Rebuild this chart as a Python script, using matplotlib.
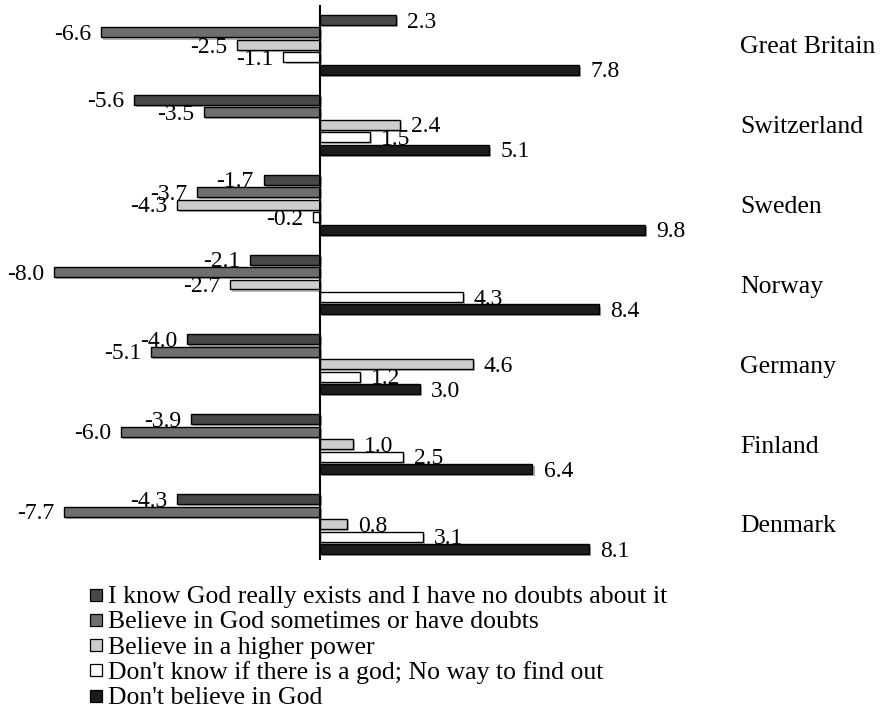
import matplotlib
matplotlib.use("Agg")
import matplotlib.pyplot as plt
import matplotlib.patheffects as pe
from matplotlib.patches import Rectangle
import numpy as np

plt.rcParams['font.family'] = ['Liberation Serif', 'DejaVu Serif']

countries = ["Great Britain", "Switzerland", "Sweden", "Norway", "Germany", "Finland", "Denmark"]
series_names = [
    "I know God really exists and I have no doubts about it",
    "Believe in God sometimes or have doubts",
    "Believe in a higher power",
    "Don't know if there is a god; No way to find out",
    "Don't believe in God",
]
know_god = [2.3, -5.6, -1.7, -2.1, -4.0, -3.9, -4.3]
doubts = [-6.6, -3.5, -3.7, -8.0, -5.1, -6.0, -7.7]
higher_power = [-2.5, 2.4, -4.3, -2.7, 4.6, 1.0, 0.8]
dont_know = [-1.1, 1.5, -0.2, 4.3, 1.2, 2.5, 3.1]
dont_believe = [7.8, 5.1, 9.8, 8.4, 3.0, 6.4, 8.1]
series = [know_god, doubts, higher_power, dont_know, dont_believe]
colors = ["#484848", "#6e6e6e", "#cdcdcd", "#ffffff", "#1c1c1c"]

W, H = 881, 715
fig = plt.figure(figsize=(W / 100, H / 100), dpi=100)
ax = fig.add_axes([21.2 / W, (H - 560) / H, (718.4 - 21.2) / W, 555 / H])

step = 0.156
height = 0.125
ypos = np.arange(len(countries))
shadow = [pe.SimplePatchShadow(offset=(1.5, -1.5), alpha=0.35), pe.Normal()]
for j, (vals, c) in enumerate(zip(series, colors)):
    y = ypos + (j - 2) * step
    bars = ax.barh(y, vals, height=height, color=c, edgecolor="black", linewidth=1.0, zorder=2)
    for b in bars:
        b.set_path_effects(shadow)
    for yy, v in zip(y, vals):
        if v >= 0:
            ax.annotate(f"{v:.1f}", (v, yy), xytext=(8, -1.5), textcoords="offset points",
                        ha="left", va="center", fontsize=17)
        else:
            ax.annotate(f"{v:.1f}", (v, yy), xytext=(-7, -1.5), textcoords="offset points",
                        ha="right", va="center", fontsize=17)

for yy, name in zip(ypos, countries):
    ax.text(12.65, yy + 0.03, name, ha="left", va="center", fontsize=18.5, clip_on=False)

ax.axvline(0, color="black", linewidth=1.5, zorder=3)
ax.set_xlim(-9, 12)
ax.set_ylim(6.45, -0.50)
for s in ax.spines.values():
    s.set_visible(False)
ax.set_xticks([])
ax.set_yticks([])

# legend, drawn in figure pixel coordinates
for i, (c, name) in enumerate(zip(colors, series_names)):
    base = 603 + i * 25.3
    fig.patches.append(Rectangle((90 / W, 1 - (base - 2.5) / H), 12 / W, 12 / H,
                                 facecolor=c, edgecolor="black", linewidth=0.9,
                                 transform=fig.transFigure, figure=fig))
    fig.text(108 / W, 1 - base / H, name, ha="left", va="baseline", fontsize=18.5)

fig.savefig("out.png", dpi=100)
